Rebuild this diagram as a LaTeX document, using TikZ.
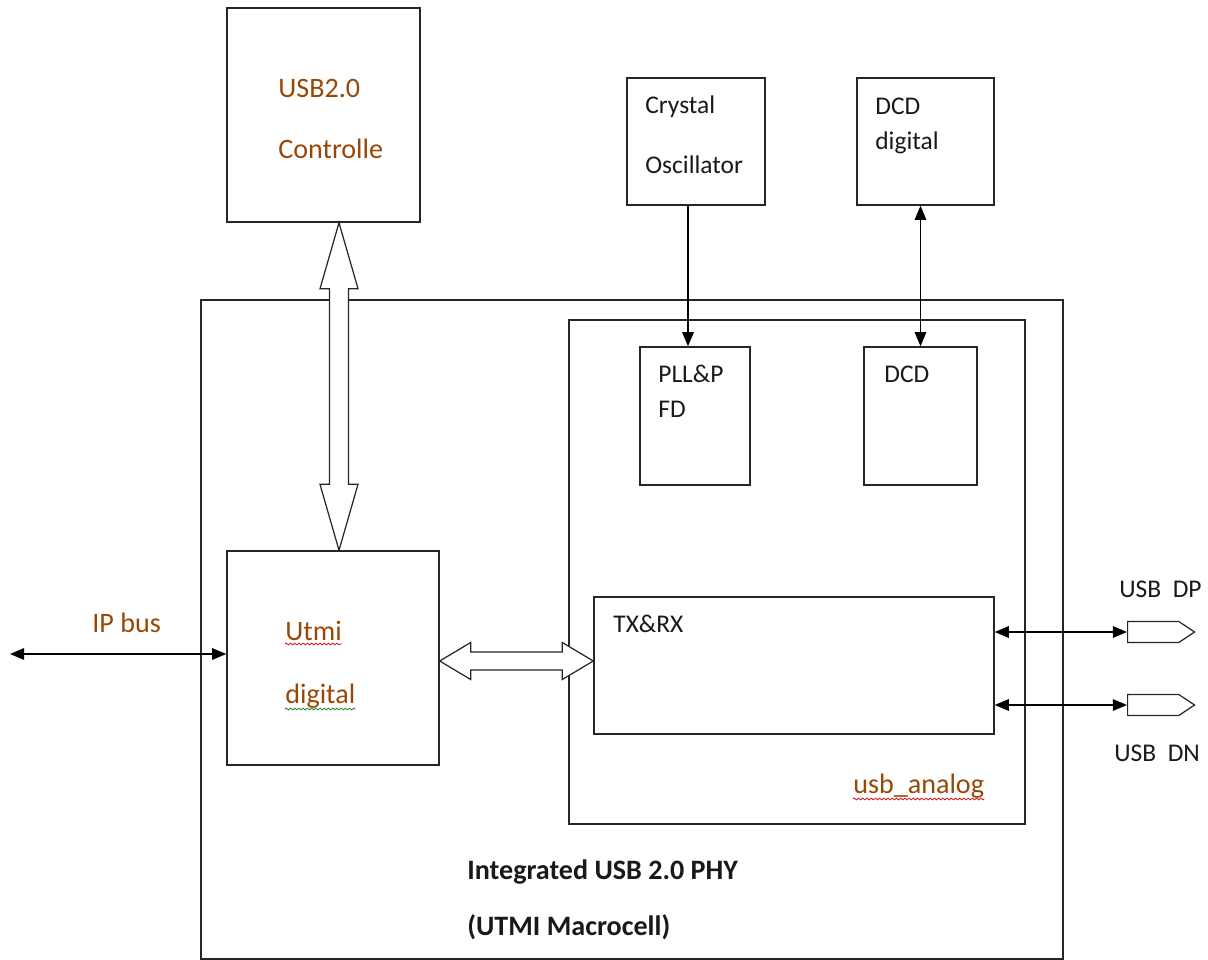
\documentclass[tikz,border=0pt]{standalone}
\usepackage{fontspec}
\setmainfont{Carlito}
\usepackage{tikz}
\usetikzlibrary{positioning, arrows.meta, calc, fit, shapes.symbols, decorations.pathmorphing}
\definecolor{phyBrown}{HTML}{984806}
\definecolor{phyLine}{HTML}{262626}
\definecolor{spellRed}{HTML}{D02020}
\definecolor{spellGreen}{HTML}{2E8B2E}

\begin{document}
\begin{tikzpicture}[x=0.02cm, y=-0.02cm, font=\fontsize{14.5}{17}\selectfont,
    >={Triangle[length=8pt,width=6.5pt]},
    blk/.style={draw=phyLine, line width=0.8pt, inner sep=0pt},
    lbl/.style={anchor=base west, inner sep=0pt, text=black!90},
    lblb/.style={lbl, text=phyBrown, font=\fontsize{16}{19}\selectfont},
    sig/.style={line width=0.85pt, draw=black},
    hollow/.style={draw=phyLine, line width=0.7pt, fill=white, line join=miter},
    pin/.style={draw=phyLine, line width=0.7pt, shape=signal, signal to=east,
      signal pointer angle=67, minimum width=1.34cm, minimum height=0.42cm,
      inner sep=0pt, anchor=west},
    squig/.style={line width=0.5pt, decorate,
      decoration={snake, amplitude=0.5pt, segment length=2.4pt}}]
  \useasboundingbox (0,0) rectangle (1208,960);

  % Bloques exteriores
  \node[blk, fit={(227,8) (420,222)}] (ctrl) {};
  \node[blk, fit={(627,78) (765,205)}] (xtal) {};
  \node[blk, fit={(857,78) (994,205)}] (dcdd) {};
  \node[blk, fit={(201,300) (1063,959)}] (phy) {};
  \node[blk, fit={(569,320) (1025,824)}] (ana) {};

  % Bloques interiores
  \node[blk, fit={(640,347) (750,485)}] (pll) {};
  \node[blk, fit={(864,347) (977,485)}] (dcd) {};
  \node[blk, fit={(227,551) (439,765)}] (utmi) {};
  \node[blk, fit={(594,597) (994,734)}] (txrx) {};

  % Pines
  \node[pin] (dp) at (1127,632) {};
  \node[pin] (dn) at (1127,705) {};

  % Textos
  \node[lblb] (ctrlA) at (278,97) {USB2.0};
  \node[lblb] (ctrlB) at (278,158) {Controlle};
  \node[lbl] (xtalA) at (645,113) {Crystal};
  \node[lbl] (xtalB) at (645,173) {Oscillator};
  \node[lbl] (dcddA) at (875,114) {DCD};
  \node[lbl] (dcddB) at (875,149) {digital};
  \node[lbl] (pllA) at (658,382) {PLL\&P};
  \node[lbl] (pllB) at (658,417) {FD};
  \node[lbl] (dcdA) at (884,382) {DCD};
  \node[lblb] (utmiA) at (285,640) {Utmi};
  \node[lblb] (utmiB) at (285,703) {digital};
  \node[lbl] (txrxA) at (613,632) {TX\&RX};
  \node[lblb] (ipA) at (92,632) {IP bus};
  \node[lbl] (dpA) at (1119,597) {USB\ \ DP};
  \node[lbl] (dnA) at (1114,761) {USB\ \ DN};
  \node[lblb] (anaA) at (853,793) {usb\_analog};
  \node[lbl, font=\fontsize{16}{19}\selectfont\bfseries] (phyA) at (467,879) {Integrated USB 2.0 PHY};
  \node[lbl, font=\fontsize{16}{19}\selectfont\bfseries] (phyB) at (467,935) {(UTMI Macrocell)};

  % Subrayados del corrector
  \draw[squig, spellRed] ($(utmiA.base west)+(0,4)$) -- ($(utmiA.base east)+(0,4)$);
  \draw[squig, spellGreen] ($(utmiB.base west)+(0,6)$) -- ($(utmiB.base east)+(0,6)$);
  \draw[squig, spellRed] ($(anaA.base west)+(0,6)$) -- ($(anaA.base east)+(0,6)$);

  % Buses anchos
  \coordinate (busT) at ($(ctrl.south)+(15.5,0)$);
  \coordinate (busB) at (busT |- utmi.north);
  \draw[hollow] (busT) -- ++(19,66) -- ++(-9.5,0) -- ($(busB)+(9.5,-66)$)
    -- ++(9.5,0) -- (busB) -- ++(-19,-66) -- ++(9.5,0)
    -- ($(busT)+(-9.5,66)$) -- ++(-9.5,0) -- cycle;
  \coordinate (linkL) at ($(utmi.east)+(0,3)$);
  \coordinate (linkR) at (linkL -| txrx.west);
  \draw[hollow] (linkL) -- ++(31,-18.5) -- ++(0,9.5) -- ($(linkR)+(-31,-9)$)
    -- ++(0,-9.5) -- (linkR) -- ++(-31,18.5) -- ++(0,-9.5)
    -- ($(linkL)+(31,9)$) -- ++(0,9.5) -- cycle;

  % Senales
  \coordinate (ipL) at (10,654);
  \draw[sig, <->] (ipL) -- (ipL -| utmi.west);
  \draw[sig, ->] ([xshift=-0.16cm]xtal.south) -- ([xshift=-0.16cm]xtal.south |- pll.north);
  \draw[sig, <->] (dcd.north |- dcdd.south) -- (dcd.north);
  \draw[sig, <->] (txrx.east |- dp.west) -- (dp.west);
  \draw[sig, <->] (txrx.east |- dn.west) -- (dn.west);
\end{tikzpicture}
\end{document}
